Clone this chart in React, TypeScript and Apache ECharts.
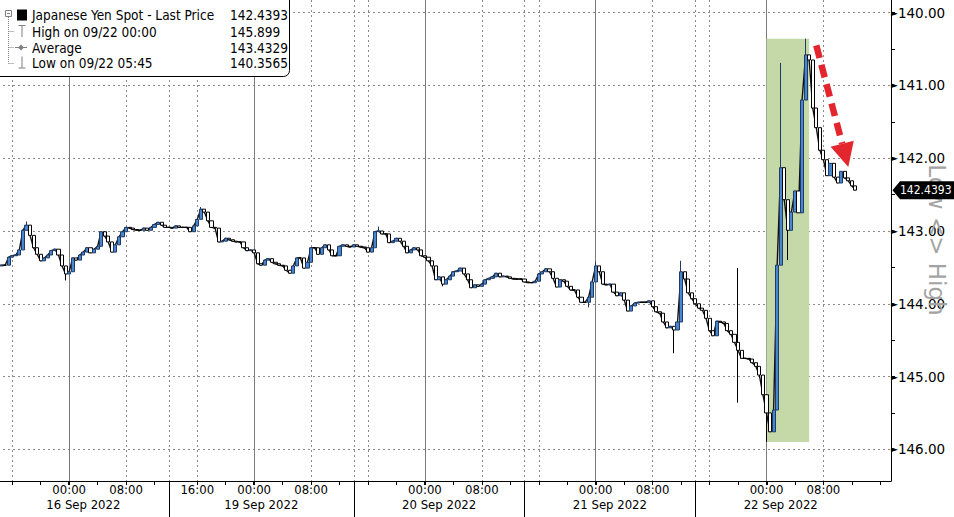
import React, { useEffect, useRef } from "react";
import * as echarts from "echarts";

// ---- time structure (trading sessions, half-hour slots) ----
const sessionStarts = ["2022-09-15 14:00", "2022-09-18 12:00", "2022-09-19 14:00", "2022-09-20 14:00", "2022-09-21 14:00"];
const sessionHours = [24, 26, 24, 24, 24];
const tailHours = 4;
const dateLabels = ["16 Sep 2022", "19 Sep 2022", "20 Sep 2022", "21 Sep 2022", "22 Sep 2022"];
const timeLabels = [
  "09/16 00:00", "09/16 08:00", "09/18 16:00", "09/19 00:00", "09/19 08:00",
  "09/20 00:00", "09/20 08:00", "09/21 00:00", "09/21 08:00", "09/22 00:00", "09/22 08:00",
];

// ---- half-hourly closes from 09/15 14:00 ----
const closesFri16 = [
  143.48, 143.47, 143.47, 143.36, 143.34, 143.33, 143.26, 142.99, 142.92, 143.06,
  143.23, 143.32, 143.41, 143.37, 143.33, 143.27, 143.25, 143.33, 143.48, 143.59,
  143.56, 143.37, 143.40, 143.33, 143.29, 143.23, 143.30, 143.25, 143.21, 143.01,
  143.07, 143.15, 143.29, 143.19, 143.08, 143.01, 142.95, 142.96, 142.98, 142.99,
  142.99, 142.96, 142.99, 142.95, 142.91, 142.88, 142.92, 142.95,
];
const closesMon19 = [
  142.95, 142.96, 142.93, 142.95, 142.95, 142.95, 143.01, 142.93, 142.84, 142.70,
  142.74, 142.86, 142.95, 142.96, 143.15, 143.14, 143.10, 143.12, 143.14, 143.15,
  143.15, 143.23, 143.27, 143.26, 143.30, 143.45, 143.47, 143.40, 143.38, 143.43,
  143.45, 143.47, 143.48, 143.54, 143.58, 143.48, 143.37, 143.37, 143.51, 143.43,
  143.23, 143.23, 143.32, 143.23, 143.19, 143.26, 143.34, 143.34, 143.21, 143.19,
  143.21, 143.22,
];
const closesTue20 = [
  143.19, 143.21, 143.22, 143.23, 143.29, 143.23, 143.01, 143.00, 143.04, 143.04,
  143.16, 143.14, 143.10, 143.14, 143.21, 143.30, 143.26, 143.23, 143.26, 143.34,
  143.36, 143.41, 143.48, 143.67, 143.63, 143.73, 143.67, 143.62, 143.56, 143.55,
  143.51, 143.59, 143.67, 143.78, 143.74, 143.76, 143.73, 143.67, 143.65, 143.63,
  143.58, 143.63, 143.62, 143.63, 143.65, 143.66, 143.66, 143.66,
];
const closesWed21 = [
  143.70, 143.71, 143.71, 143.69, 143.59, 143.56, 143.52, 143.56, 143.65, 143.77,
  143.67, 143.69, 143.76, 143.81, 143.81, 143.91, 143.98, 143.98, 143.91, 143.70,
  143.48, 143.56, 143.73, 143.74, 143.73, 143.84, 143.89, 143.85, 143.95, 144.10,
  144.03, 143.99, 143.98, 143.98, 143.98, 143.96, 144.04, 144.11, 144.13, 144.25,
  144.33, 144.31, 144.36, 144.25, 143.56, 143.66, 143.85, 143.93,
];
const closesThu22 = [
  144.00, 144.06, 144.09, 144.20, 144.37, 144.44, 144.24, 144.25, 144.27, 144.37,
  144.42, 144.53, 144.64, 144.75, 144.75, 144.76, 144.81, 144.86, 144.98, 145.25,
  145.50, 145.76, 145.46, 143.47, 142.13, 142.57, 142.99, 142.74, 142.45, 142.75,
  141.20, 140.58, 140.65, 141.31, 141.58, 141.89, 142.02, 142.24, 142.07, 142.26,
  142.34, 142.18, 142.27, 142.31, 142.38, 142.4393,
];
// intrabar extremes (wicks)
const extremes: [string, number][] = [
  ["09/15 18:00", 142.87], ["09/15 23:30", 143.68], ["09/18 16:30", 142.67],
  ["09/19 17:30", 142.94], ["09/20 02:30", 143.76], ["09/20 23:00", 144.05],
  ["09/21 00:00", 143.42], ["09/21 11:00", 144.68], ["09/21 12:00", 143.41],
  ["09/21 20:00", 143.51], ["09/21 20:00", 145.36], ["09/22 00:00", 145.899],
  ["09/22 02:00", 140.69], ["09/22 03:00", 143.40], ["09/22 05:30", 140.3565],
];

const legendNames = ["Japanese Yen Spot - Last Price", "High on 09/22 00:00", "Average", "Low on 09/22 05:45"];
const legendValues = ["142.4393", "145.899", "143.4329", "140.3565"];
const lastPrice = 142.4393;
const highValue = 145.899;
const highSlot = "09/22 00:00";
const lowValue = 140.3565;
const lowSlotEnd = "09/22 06:00";
const yLabelValues = [140, 141, 142, 143, 144, 145, 146];
const yTickValues = [140, 140.5, 141, 141.5, 142, 142.5, 143, 143.5, 144, 144.5, 145, 145.5, 146];
const arrowFrom: [string, number] = ["09/22 07:00", 140.45];
const arrowTo: [string, number] = ["09/22 11:30", 142.12];

const FONT = '"DejaVu Sans", sans-serif';
const FONT_C = '"DejaVu Sans Condensed", "DejaVu Sans", sans-serif';

function pad(n: number) {
  return n < 10 ? "0" + n : "" + n;
}

function buildSlots() {
  const cats: string[] = [];
  const firsts: number[] = [];
  sessionStarts.forEach((s, i) => {
    const [d, t] = s.split(" ");
    const [Y, M, D] = d.split("-").map(Number);
    const [h, m] = t.split(":").map(Number);
    const base = Date.UTC(Y, M - 1, D, h, m);
    const hours = sessionHours[i] + (i === sessionStarts.length - 1 ? tailHours : 0);
    firsts.push(cats.length);
    for (let k = 0; k < hours * 2; k++) {
      const dt = new Date(base + k * 30 * 60000);
      cats.push(
        `${pad(dt.getUTCMonth() + 1)}/${pad(dt.getUTCDate())} ${pad(dt.getUTCHours())}:${pad(dt.getUTCMinutes())}`
      );
    }
  });
  return { cats, firsts };
}

export default function App() {
  const ref = useRef<HTMLDivElement>(null);

  useEffect(() => {
    if (!ref.current) return;
    const chart = echarts.init(ref.current, undefined, { renderer: "svg" });

    const { cats, firsts } = buildSlots();
    const closes = [...closesFri16, ...closesMon19, ...closesTue20, ...closesWed21, ...closesThu22];
    const lastSlot = closes.length - 1;
    const sepSlots = firsts.slice(1);
    const dateSlots = firsts.map((f, i) => f + sessionHours[i]);

    const exMap: Record<string, number[]> = {};
    extremes.forEach(([c, v]) => {
      (exMap[c] = exMap[c] || []).push(v);
    });
    const candles = closes.map((c, i) => {
      const o = i === 0 ? c : closes[i - 1];
      const ex = exMap[cats[i]] || [];
      return [o, c, Math.min(o, c, ...ex), Math.max(o, c, ...ex)];
    });

    const hourOf = (i: number) => Number(cats[i].slice(6, 8));
    const minOf = (i: number) => Number(cats[i].slice(9, 11));
    const isFourHour = (i: number) => minOf(i) === 0 && hourOf(i) % 4 === 0;
    const isMidnight = (i: number) => i <= lastSlot && minOf(i) === 0 && hourOf(i) === 0;
    const isDotted = (i: number) =>
      i <= lastSlot && ((minOf(i) === 0 && (hourOf(i) === 8 || hourOf(i) === 16)) || sepSlots.includes(i));

    const xBase = { type: "category", data: cats, boundaryGap: false };
    const hidden = {
      axisLine: { show: false, onZero: false },
      axisTick: { show: false },
      axisLabel: { show: false },
      splitLine: { show: false },
    };

    const option: any = {
      animation: false,
      textStyle: { fontFamily: FONT_C },
      grid: [
        { left: -2, right: 63, top: -60.07, bottom: -5.07, containLabel: false, outerBoundsMode: "none" },
        { left: -2, right: 63, top: 0, bottom: 36, containLabel: false, outerBoundsMode: "none" },
      ],
      xAxis: [
        { ...xBase, gridIndex: 0, show: false },
        {
          ...xBase,
          gridIndex: 1,
          position: "bottom",
          axisLine: { show: true, onZero: false, lineStyle: { color: "#000", width: 1 } },
          axisTick: { show: true, interval: (i: number) => isFourHour(i), length: 4, lineStyle: { color: "#000" } },
          axisLabel: {
            show: true,
            interval: (i: number, v: string) => timeLabels.includes(v),
            formatter: (v: string) => v.slice(6),
            margin: 2,
            color: "#000",
            fontFamily: FONT_C,
            fontSize: 13,
          },
          splitLine: { show: false },
        },
        {
          ...xBase,
          gridIndex: 1,
          position: "bottom",
          ...hidden,
          axisTick: { show: true, interval: (i: number) => isMidnight(i), length: 4, lineStyle: { color: "#000", width: 2 } },
          splitLine: { show: true, interval: (i: number) => isMidnight(i), lineStyle: { color: "#7a7a7a", width: 1, type: "solid" } },
        },
        {
          ...xBase,
          gridIndex: 1,
          position: "bottom",
          ...hidden,
          splitLine: { show: true, interval: (i: number) => isDotted(i), lineStyle: { color: "#8a8a8a", width: 1, type: [2, 3] } },
        },
        {
          ...xBase,
          gridIndex: 1,
          position: "bottom",
          ...hidden,
          axisTick: { show: true, interval: (i: number) => sepSlots.includes(i), length: 36, lineStyle: { color: "#000" } },
          axisLabel: {
            show: true,
            interval: (i: number) => dateSlots.includes(i),
            formatter: (v: string, i: number) => dateLabels[dateSlots.indexOf(i)] || "",
            margin: 17,
            color: "#000",
            fontFamily: FONT_C,
            fontSize: 13,
          },
        },
      ],
      yAxis: [
        {
          type: "value",
          gridIndex: 0,
          inverse: true,
          min: 139,
          max: 147,
          interval: 1,
          position: "right",
          axisLine: { show: false },
          axisTick: { show: true, customValues: yTickValues, length: 4, lineStyle: { color: "#000" } },
          axisLabel: {
            show: true,
            customValues: yLabelValues,
            margin: 0,
            formatter: (v: number) => (yLabelValues.includes(v) ? `{t|►}{v|${v.toFixed(2)}}` : ""),
            rich: {
              t: { fontSize: 9, fontFamily: FONT, color: "#000", lineHeight: 16 },
              v: { fontSize: 13.5, fontFamily: FONT, color: "#000", lineHeight: 16 },
            },
          },
          splitLine: { show: false },
        },
        {
          type: "value",
          gridIndex: 0,
          inverse: true,
          min: 139,
          max: 147,
          interval: 1,
          position: "right",
          ...hidden,
          splitLine: { show: true, lineStyle: { color: "#8a8a8a", width: 1, type: [2, 3] } },
        },
        {
          type: "value",
          gridIndex: 1,
          min: 0,
          max: 1,
          position: "right",
          ...hidden,
          axisLine: { show: true, onZero: false, lineStyle: { color: "#000", width: 1 } },
        },
      ],
      series: [
        {
          type: "line",
          xAxisIndex: 0,
          yAxisIndex: 0,
          data: [],
          z: 1,
          silent: true,
          markArea: {
            silent: true,
            itemStyle: { color: "#c5d8a7", opacity: 1 },
            data: [[{ xAxis: highSlot, yAxis: highValue }, { xAxis: lowSlotEnd, yAxis: lowValue }]],
          },
        },
        {
          type: "line",
          xAxisIndex: 0,
          yAxisIndex: 0,
          data: closes,
          z: 4,
          silent: true,
          symbol: "none",
          lineStyle: { color: "#111", width: 1.4 },
        },
        {
          type: "candlestick",
          xAxisIndex: 0,
          yAxisIndex: 0,
          data: candles,
          barWidth: 3.6,
          z: 5,
          itemStyle: {
            color: "#ffffff",
            color0: "#4a86cc",
            borderColor: "#000000",
            borderColor0: "#1d3a68",
            borderWidth: 1,
          },
        },
      ],
    };

    chart.setOption(option);

    const toPx = (cat: string, v: number) =>
      chart.convertToPixel({ xAxisIndex: 0, yAxisIndex: 0 }, [cats.indexOf(cat), v]) as number[];

    const p1 = toPx(arrowFrom[0], arrowFrom[1]);
    const p2 = toPx(arrowTo[0], arrowTo[1]);
    const dx = p2[0] - p1[0];
    const dy = p2[1] - p1[1];
    const L = Math.hypot(dx, dy);
    const ux = dx / L;
    const uy = dy / L;
    const headLen = 24;
    const headHalf = 12;
    const bx = p2[0] - ux * headLen;
    const by = p2[1] - uy * headLen;

    const tagY = (chart.convertToPixel({ yAxisIndex: 0 }, lastPrice) as number);
    const axisX = (chart.convertToPixel({ xAxisIndex: 0 }, cats.length - 1) as number);

    const rowY = [15, 31.5, 47.5, 63.3];
    const gray = "#808080";
    const legendFont = `13.5px ${FONT_C}`;

    const graphics: any[] = [
      {
        type: "rect",
        z: 100,
        shape: { x: -2, y: -2, width: 291.5, height: 78.5, r: [0, 0, 6, 0] },
        style: { fill: "#fff", stroke: "#000", lineWidth: 1 },
      },
      {
        type: "rect",
        z: 101,
        shape: { x: 5.5, y: 10.5, width: 6, height: 6 },
        style: { fill: "#fff", stroke: gray, lineWidth: 1 },
      },
      { type: "line", z: 101, shape: { x1: 7, y1: 13.5, x2: 10, y2: 13.5 }, style: { stroke: gray, lineWidth: 1 } },
      { type: "line", z: 101, shape: { x1: 8.5, y1: 17, x2: 8.5, y2: 63.5 }, style: { stroke: gray, lineWidth: 1, lineDash: [1, 1] } },
      ...[31.5, 47.5, 63.5].map((y) => ({
        type: "line",
        z: 101,
        shape: { x1: 8.5, y1: y, x2: 14, y2: y },
        style: { stroke: gray, lineWidth: 1, lineDash: [1, 1] },
      })),
      { type: "rect", z: 101, shape: { x: 17, y: 9.5, width: 10, height: 11 }, style: { fill: "#000" } },
      { type: "line", z: 101, shape: { x1: 18.5, y1: 25.5, x2: 25.5, y2: 25.5 }, style: { stroke: gray, lineWidth: 1 } },
      { type: "line", z: 101, shape: { x1: 22, y1: 25.5, x2: 22, y2: 37 }, style: { stroke: gray, lineWidth: 1 } },
      { type: "line", z: 101, shape: { x1: 15, y1: 47.5, x2: 27, y2: 47.5 }, style: { stroke: gray, lineWidth: 1 } },
      {
        type: "polygon",
        z: 102,
        shape: { points: [[21, 44.5], [24, 47.5], [21, 50.5], [18, 47.5]] },
        style: { fill: gray },
      },
      { type: "line", z: 101, shape: { x1: 22, y1: 56.5, x2: 22, y2: 68 }, style: { stroke: gray, lineWidth: 1 } },
      { type: "line", z: 101, shape: { x1: 18.5, y1: 68, x2: 25.5, y2: 68 }, style: { stroke: gray, lineWidth: 1 } },
      ...legendNames.map((n, i) => ({
        type: "text",
        z: 102,
        x: 32,
        y: rowY[i],
        style: { text: n, fill: "#000", font: legendFont, verticalAlign: "middle", align: "left" },
      })),
      ...legendValues.map((v, i) => ({
        type: "text",
        z: 102,
        x: 230,
        y: rowY[i],
        style: { text: v, fill: "#000", font: legendFont, verticalAlign: "middle", align: "left" },
      })),
      {
        type: "text",
        z: 50,
        x: 937,
        y: 240,
        rotation: -Math.PI / 2,
        style: { text: "Low <> High", fill: "#a3a3a3", font: `23px ${FONT}`, align: "center", verticalAlign: "middle" },
      },
      {
        type: "polygon",
        z: 60,
        shape: {
          points: [
            [axisX + 1.5, tagY],
            [axisX + 9, tagY - 9],
            [956, tagY - 9],
            [956, tagY + 9],
            [axisX + 9, tagY + 9],
          ],
        },
        style: { fill: "#000" },
      },
      {
        type: "text",
        z: 61,
        x: axisX + 9,
        y: tagY,
        style: { text: lastPrice.toFixed(4), fill: "#fff", font: `12px ${FONT_C}`, verticalAlign: "middle", align: "left" },
      },
      {
        type: "line",
        z: 70,
        shape: { x1: p1[0], y1: p1[1], x2: bx, y2: by },
        style: { stroke: "#e3262d", lineWidth: 6.5, lineDash: [13, 7] },
      },
      {
        type: "polygon",
        z: 70,
        shape: {
          points: [
            [p2[0], p2[1]],
            [bx - uy * headHalf, by + ux * headHalf],
            [bx + uy * headHalf, by - ux * headHalf],
          ],
        },
        style: { fill: "#e3262d" },
      },
    ];

    chart.setOption({ graphic: graphics });

    return () => chart.dispose();
  }, []);

  return (
    <div
      ref={ref}
      style={{ position: "fixed", left: 0, top: 0, width: 954, height: 517, background: "#fff" }}
    />
  );
}
